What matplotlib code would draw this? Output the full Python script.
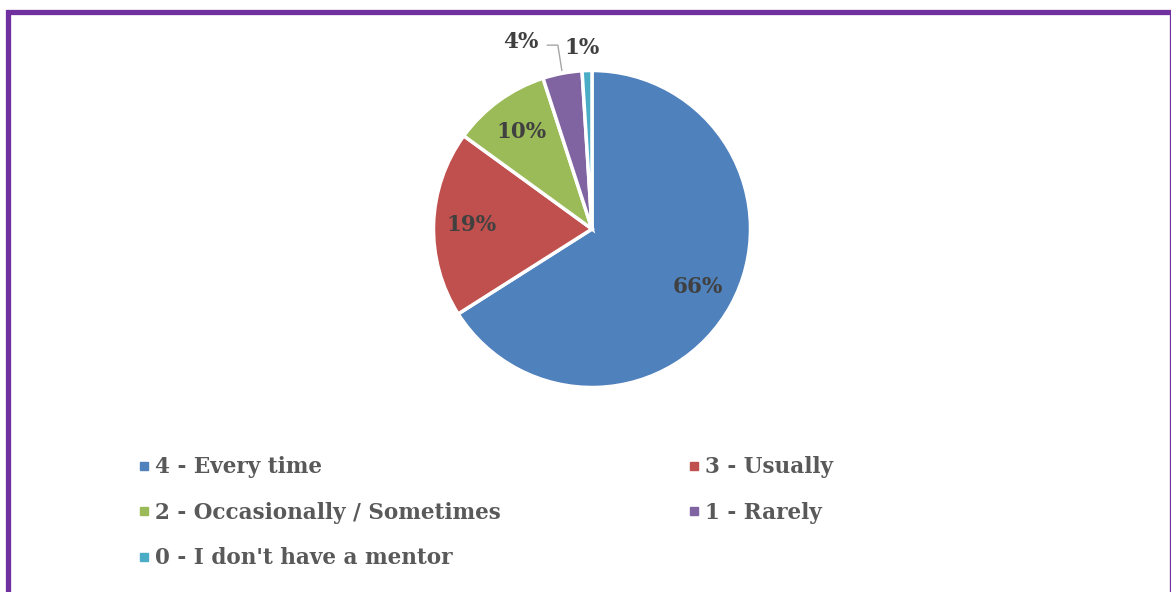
import numpy as np
import matplotlib.pyplot as plt
from matplotlib.lines import Line2D
from matplotlib.patches import Rectangle

labels = ['4 - Every time', '3 - Usually', '2 - Occasionally / Sometimes',
          '1 - Rarely', "0 - I don't have a mentor"]
values = [66, 19, 10, 4, 1]
colors = ['#4F81BD', '#C0504D', '#9BBB59', '#8064A2', '#4BACC6']

txt_color = '#404040'
font = dict(family='DejaVu Serif', weight='bold')

W, H = 1171, 592
fig = plt.figure(figsize=(W / 100, H / 100), dpi=100)

# purple frame (runs off the right and bottom edges)
fig.patches.append(Rectangle((8 / W, -0.1), (1171.5 - 8) / W, 1.1 - 11.5 / H,
                             transform=fig.transFigure, fill=False,
                             edgecolor='#7030A0', linewidth=3.8))

# pie axes: centre (592, 229) px, radius 158.5 px
cx, cy, r = 592, 229, 158.5
ax = fig.add_axes([(cx - r) / W, (H - cy - r) / H, 2 * r / W, 2 * r / H])
wedges, texts, autotexts = ax.pie(values, colors=colors, startangle=90,
                                  counterclock=False, radius=1,
                                  autopct='%d%%', pctdistance=0.76,
                                  wedgeprops=dict(edgecolor='white', linewidth=2.5),
                                  textprops=dict(color=txt_color, fontsize=15.5, **font))
ax.set_xlim(-1, 1)
ax.set_ylim(-1, 1)
ax.set_aspect('auto')
ax.axis('off')

# small slices: labels outside
w4 = wedges[3]
mid4 = np.deg2rad((w4.theta1 + w4.theta2) / 2)
autotexts[3].set_position((-0.45, 1.18))
ax.annotate('', xy=(np.cos(mid4), np.sin(mid4)), xytext=(-0.30, 1.16),
            arrowprops=dict(arrowstyle='-', color='#A6A6A6', lw=1,
                            connectionstyle='angle,angleA=0,angleB=99,rad=0'),
            annotation_clip=False)
autotexts[4].set_position((-0.06, 1.14))
for t in autotexts[3:]:
    t.set_clip_on(False)

# legend, filled row by row
order = [0, 2, 4, 1, 3]
handles = [Line2D([], [], marker='s', linestyle='none', markersize=6,
                  markerfacecolor=colors[i], markeredgecolor=colors[i]) for i in order]
leg = fig.legend(handles, [labels[i] for i in order], ncol=2,
                 loc='upper left', bbox_to_anchor=(119 / W, 1 - 437 / H),
                 frameon=False, handlelength=0.5, handletextpad=0.26,
                 columnspacing=8.76, labelspacing=1.09,
                 prop=dict(size=15.5, **font))
for t in leg.get_texts():
    t.set_color('#595959')

fig.savefig('out.png', dpi=100)
